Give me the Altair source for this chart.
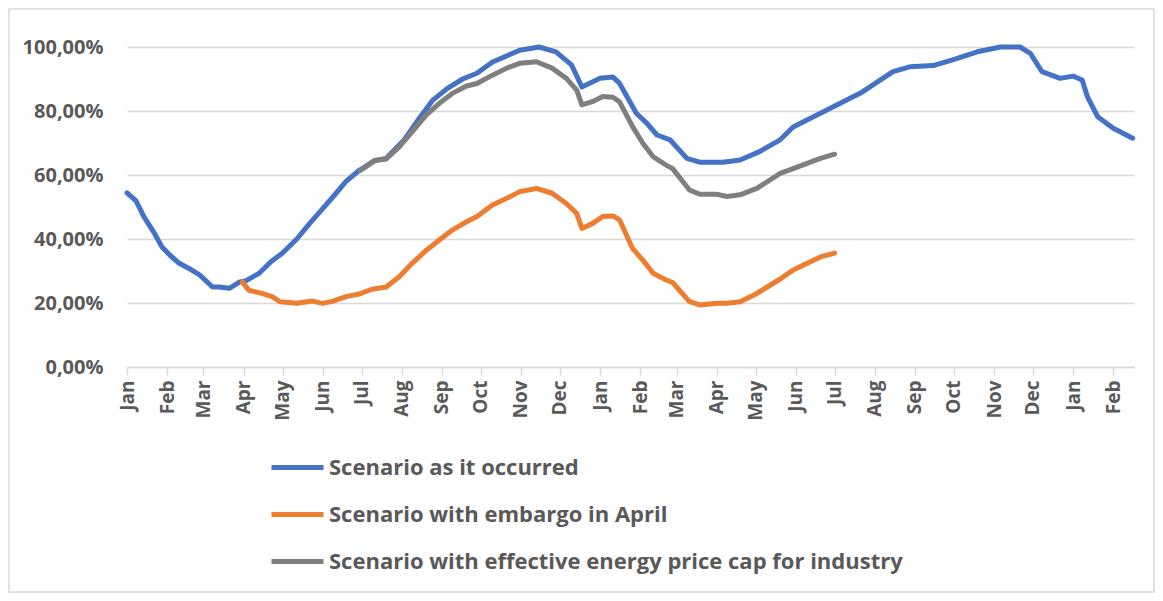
import altair as alt
import pandas as pd

series_names = [
    "Scenario as it occurred",
    "Scenario with embargo in April",
    "Scenario with effective energy price cap for industry",
]
series_colors = ["#4472C4", "#ED7D31", "#7F7F7F"]

blue_dates = [
    "2021-01-01", "2021-01-08", "2021-01-14", "2021-01-22", "2021-01-28", "2021-02-03",
    "2021-02-10", "2021-02-20", "2021-02-26", "2021-03-08", "2021-03-13", "2021-03-21",
    "2021-03-29", "2021-04-03", "2021-04-13", "2021-04-22", "2021-05-01", "2021-05-12",
    "2021-05-22", "2021-05-31", "2021-06-09", "2021-06-19", "2021-06-29", "2021-07-11",
    "2021-07-20", "2021-08-03", "2021-08-15", "2021-08-25", "2021-09-05", "2021-09-17",
    "2021-09-28", "2021-10-10", "2021-10-31", "2021-11-15", "2021-11-28", "2021-12-10",
    "2021-12-18", "2022-01-01", "2022-01-11", "2022-01-16", "2022-01-29", "2022-02-06",
    "2022-02-14", "2022-02-24", "2022-03-09", "2022-03-19", "2022-04-06", "2022-04-19",
    "2022-05-04", "2022-05-20", "2022-05-30", "2022-06-25", "2022-07-21", "2022-08-15",
    "2022-08-28", "2022-09-15", "2022-09-30", "2022-10-19", "2022-11-06", "2022-11-21",
    "2022-11-29", "2022-12-08", "2022-12-22", "2023-01-01", "2023-01-08", "2023-01-12",
    "2023-01-20", "2023-02-01", "2023-02-16",
]
blue_values = [
    54.4, 51.9, 47.0, 41.9, 37.5, 35.0,
    32.5, 30.3, 28.8, 25.0, 25.0, 24.6,
    26.6, 27.0, 29.3, 32.9, 35.6, 40.0,
    44.9, 49.0, 53.2, 58.0, 61.4, 64.5,
    65.2, 71.0, 78.0, 83.4, 87.0, 90.0,
    91.8, 95.3, 99.0, 100.0, 98.5, 94.4,
    87.5, 90.2, 90.6, 88.7, 79.3, 76.2,
    72.5, 71.0, 65.2, 64.0, 64.0, 64.7,
    67.3, 71.0, 75.0, 80.3, 85.6, 92.3,
    93.8, 94.2, 96.0, 98.5, 100.0, 100.0,
    98.0, 92.3, 90.2, 90.9, 89.7, 84.5,
    78.2, 74.6, 71.5,
]

orange_dates = [
    "2021-03-31", "2021-04-05", "2021-04-15", "2021-04-23", "2021-04-29", "2021-05-12",
    "2021-05-24", "2021-06-01", "2021-06-09", "2021-06-19", "2021-06-29", "2021-07-09",
    "2021-07-20", "2021-07-30", "2021-08-09", "2021-08-20", "2021-08-30", "2021-09-09",
    "2021-09-20", "2021-09-28", "2021-10-10", "2021-10-21", "2021-10-31", "2021-11-13",
    "2021-11-25", "2021-12-06", "2021-12-14", "2021-12-18", "2021-12-26", "2022-01-03",
    "2022-01-11", "2022-01-16", "2022-01-26", "2022-02-03", "2022-02-11", "2022-02-21",
    "2022-02-26", "2022-03-11", "2022-03-19", "2022-04-01", "2022-04-09", "2022-04-19",
    "2022-05-02", "2022-05-20", "2022-05-30", "2022-06-20", "2022-07-01",
]
orange_values = [
    26.6, 24.0, 23.0, 22.0, 20.4, 19.9,
    20.6, 19.9, 20.6, 22.0, 22.8, 24.3,
    25.0, 28.2, 32.4, 36.5, 39.7, 42.8,
    45.4, 47.0, 50.6, 52.7, 54.8, 55.8,
    54.3, 51.1, 48.0, 43.3, 44.8, 47.0,
    47.2, 46.0, 37.1, 33.4, 29.3, 27.2,
    26.4, 20.4, 19.4, 19.9, 19.9, 20.4,
    23.0, 27.5, 30.3, 34.4, 35.6,
]

gray_dates = [
    "2021-06-30", "2021-07-11", "2021-07-20", "2021-07-30", "2021-08-09", "2021-08-20",
    "2021-08-30", "2021-09-09", "2021-09-20", "2021-09-28", "2021-10-10", "2021-10-21",
    "2021-10-31", "2021-11-13", "2021-11-25", "2021-12-06", "2021-12-14", "2021-12-18",
    "2021-12-26", "2022-01-03", "2022-01-11", "2022-01-16", "2022-01-26", "2022-02-03",
    "2022-02-11", "2022-02-21", "2022-02-26", "2022-03-11", "2022-03-19", "2022-04-01",
    "2022-04-09", "2022-04-19", "2022-05-02", "2022-05-20", "2022-05-30", "2022-06-20",
    "2022-07-01",
]
gray_values = [
    61.4, 64.5, 65.0, 68.8, 73.5, 78.8,
    82.4, 85.5, 87.8, 88.6, 91.2, 93.4,
    94.9, 95.4, 93.4, 90.2, 86.5, 81.9,
    82.9, 84.5, 84.3, 82.9, 75.2, 69.9,
    65.7, 63.1, 62.0, 55.3, 54.0, 54.0,
    53.3, 53.8, 55.8, 60.5, 62.0, 65.2,
    66.5,
]

month_ticks = [(2021, m) for m in range(1, 13)] + [(2022, m) for m in range(1, 13)] + [(2023, 1), (2023, 2)]
y_ticks = [0, 0.2, 0.4, 0.6, 0.8, 1.0]

rows = []
for name, dates, vals in zip(series_names, [blue_dates, orange_dates, gray_dates],
                             [blue_values, orange_values, gray_values]):
    for d, v in zip(dates, vals):
        rows.append({"date": d, "value": v / 100.0, "series": name})
df = pd.DataFrame(rows)

FONT = "Open Sans"
TXT = "#595959"
GRID = "#d9d9d9"

x_enc = alt.X(
    "date:T",
    scale=alt.Scale(
        type="utc",
        domain=[alt.DateTime(year=2021, month=1, date=1, utc=True),
                alt.DateTime(year=2023, month=2, date=17, utc=True)],
        nice=False,
    ),
    axis=alt.Axis(
        title=None,
        values=[alt.DateTime(year=y, month=m, date=1, utc=True) for y, m in month_ticks],
        labelExpr="utcFormat(datum.value, '%b')",
        labelAngle=-90,
        labelAlign="right",
        labelBaseline="middle",
        labelFont=FONT,
        labelFontSize=19,
        labelFontWeight="bold",
        labelColor=TXT,
        labelPadding=5,
        labelOverlap=False,
        labelBound=False,
        labelFlush=False,
        tickSize=8,
        tickColor=GRID,
        tickWidth=1.5,
        domainColor=GRID,
        domainWidth=1.5,
        grid=False,
    ),
)

y_enc = alt.Y(
    "value:Q",
    scale=alt.Scale(domain=[0, 1], nice=False),
    axis=alt.Axis(
        title=None,
        values=y_ticks,
        labelExpr="replace(format(datum.value, '.2%'), '.', ',')",
        labelFont=FONT,
        labelFontSize=20,
        labelFontWeight="bold",
        labelColor=TXT,
        labelPadding=24,
        ticks=False,
        domain=False,
        grid=True,
        gridColor=GRID,
        gridWidth=1.5,
    ),
)

lines = alt.Chart(df).mark_line(strokeWidth=5, strokeCap="round", strokeJoin="round").encode(
    x=x_enc,
    y=y_enc,
    color=alt.Color(
        "series:N",
        scale=alt.Scale(domain=series_names, range=series_colors),
        sort=series_names,
        legend=alt.Legend(
            orient="none",
            legendX=142,
            legendY=392,
            direction="vertical",
            title=None,
            symbolType="stroke",
            symbolSize=2704,
            symbolStrokeWidth=5,
            labelFont=FONT,
            labelFontSize=22,
            labelFontWeight="bold",
            labelColor=TXT,
            labelOffset=3,
            labelLimit=900,
            rowPadding=7,
        ),
    ),
    detail="series:N",
)

border = alt.Chart(pd.DataFrame({"k": [0]})).mark_rect(
    fill=None, stroke=GRID, strokeWidth=1.5
).encode(
    x=alt.value(-118),
    x2=alt.value(1027),
    y=alt.value(-38),
    y2=alt.value(545),
)

chart = alt.layer(border, lines).properties(
    width=1007,
    height=320,
    autosize=alt.AutoSizeParams(type="none"),
    padding={"left": 119, "top": 39, "right": 21, "bottom": 226},
).configure_view(stroke=None)

chart.save("out.html", embed_options={"renderer": "svg", "actions": False})
